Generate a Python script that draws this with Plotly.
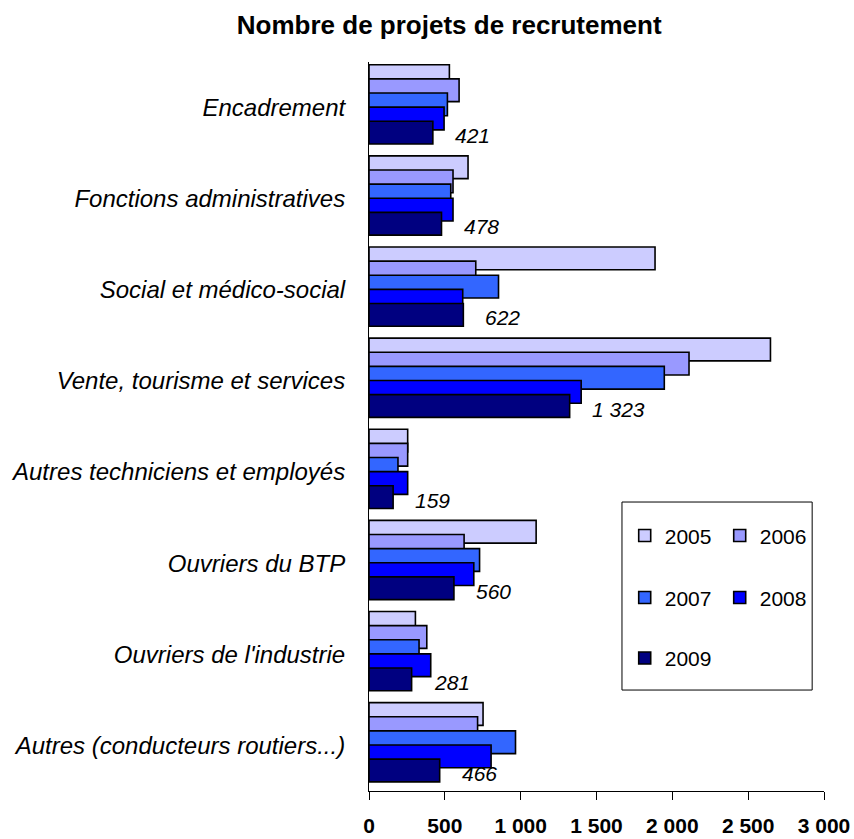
import plotly.graph_objects as go

# Données
categories = [
    "Encadrement",
    "Fonctions administratives",
    "Social et médico-social",
    "Vente, tourisme et services",
    "Autres techniciens et employés",
    "Ouvriers du BTP",
    "Ouvriers de l'industrie",
    "Autres (conducteurs routiers...)",
]
annees = ["2005", "2006", "2007", "2008", "2009"]
v2005 = [530, 653, 1886, 2647, 255, 1102, 306, 752]
v2006 = [594, 554, 704, 2110, 255, 627, 381, 716]
v2007 = [517, 539, 854, 1947, 191, 729, 330, 966]
v2008 = [495, 554, 618, 1399, 255, 691, 407, 805]
v2009 = [421, 478, 622, 1323, 159, 560, 281, 466]
x_ticks = [0, 500, 1000, 1500, 2000, 2500, 3000]

couleurs = ["#CCCCFF", "#9999FF", "#3366FF", "#0000FF", "#000080"]
police = "Liberation Sans, Arial"

series = [v2005, v2006, v2007, v2008, v2009]
legendes = ["legend", "legend", "legend2", "legend2", "legend3"]

# barres qui se chevauchent (comme dans Excel)
largeur = 0.25
pas = 0.155
debut = -0.47

fig = go.Figure()
for i, (annee, vals) in enumerate(zip(annees, series)):
    fig.add_trace(go.Bar(
        x=vals, y=categories, orientation="h", name=annee,
        marker=dict(color=couleurs[i], line=dict(color="black", width=1.6)),
        width=largeur, offset=debut + i * pas,
        legend=legendes[i],
    ))

# étiquettes de valeur pour 2009
for i, v in enumerate(v2009):
    fig.add_annotation(
        x=v, y=i + debut + 4 * pas + largeur / 2,
        text="<i>" + f"{v:,}".replace(",", " ") + "</i>",
        showarrow=False, xanchor="left", yanchor="middle",
        xshift=20, yshift=-3,
        font=dict(family=police, size=21, color="black"),
    )

# cadre de la légende
fig.add_shape(type="rect", xref="paper", yref="paper",
              x0=0.556, x1=0.974, y0=0.1385, y1=0.3964,
              line=dict(color="black", width=1), fillcolor="white", layer="below")

leg = dict(orientation="h", bgcolor="rgba(0,0,0,0)", borderwidth=0,
           font=dict(family=police, size=21, color="black"),
           entrywidth=50, xanchor="left", yanchor="middle", itemclick=False)

fig.update_layout(
    width=854, height=839,
    margin=dict(l=369, r=30, t=62, b=48),
    plot_bgcolor="white", paper_bgcolor="white",
    barmode="overlay",
    separators=", ",
    font=dict(family=police, size=24, color="black"),
    title=dict(text="<b>Nombre de projets de recrutement</b>",
               x=0.526, xanchor="center", y=0.970, yanchor="middle",
               font=dict(family=police, size=26, color="black")),
    legend=dict(leg, x=0.562, y=0.35),
    legend2=dict(leg, x=0.562, y=0.265),
    legend3=dict(leg, x=0.562, y=0.182),
)

fig.update_xaxes(
    range=[0, 3000], tickvals=x_ticks, tickformat=",d",
    showline=True, linecolor="black", linewidth=1,
    ticks="outside", ticklen=8, tickcolor="black",
    showgrid=False, zeroline=False, automargin=False,
    tickfont=dict(family=police, size=21, color="black", weight="bold"),
    ticklabelstandoff=8, ticklabeloverflow="allow",
)
fig.update_yaxes(
    categoryorder="array", categoryarray=categories, autorange="reversed",
    showline=True, linecolor="black", linewidth=1,
    ticks="", showgrid=False, automargin=False,
    tickfont=dict(family=police, size=24, color="black", style="italic"),
    ticklabelstandoff=18,
)

# pas de marge autour du graphique dans la page
fig.write_html("out.html", config={"displayModeBar": False},
               post_script="document.body.style.margin='0';")
